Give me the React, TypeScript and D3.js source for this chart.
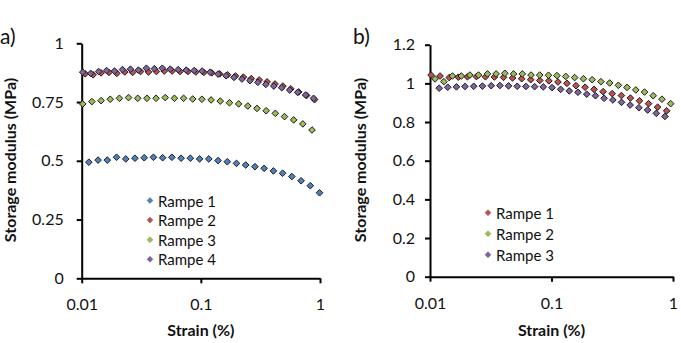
import { useEffect, useRef } from 'react';
import * as d3 from 'd3';

// ---- panel a) data ----
const strainA1 = [0.01148, 0.01372, 0.0164, 0.01961, 0.02343, 0.028, 0.03347, 0.04, 0.04781, 0.05715, 0.0683, 0.0816, 0.0976, 0.1166, 0.1394, 0.1666, 0.1991, 0.2379, 0.2844, 0.3399, 0.4062, 0.4855, 0.5803, 0.6935, 0.8289, 0.9908];
const modA1 = [0.494, 0.503, 0.503, 0.515, 0.508, 0.511, 0.513, 0.515, 0.513, 0.515, 0.511, 0.511, 0.508, 0.508, 0.501, 0.496, 0.489, 0.482, 0.475, 0.468, 0.457, 0.447, 0.433, 0.415, 0.394, 0.364];

const strainA2 = [0.0107, 0.01247, 0.01453, 0.01692, 0.01972, 0.02297, 0.02676, 0.03119, 0.03634, 0.04233, 0.04932, 0.05746, 0.06694, 0.078, 0.09088, 0.1059, 0.1234, 0.1438, 0.1675, 0.1952, 0.2274, 0.2649, 0.3087, 0.3596, 0.419, 0.4882, 0.5689, 0.6627, 0.7721, 0.8998];
const modA2 = [0.87, 0.866, 0.874, 0.876, 0.872, 0.878, 0.876, 0.88, 0.878, 0.88, 0.882, 0.882, 0.88, 0.88, 0.878, 0.876, 0.874, 0.87, 0.866, 0.861, 0.856, 0.85, 0.844, 0.836, 0.827, 0.818, 0.806, 0.793, 0.778, 0.76];

const strainA3 = [0.0102, 0.01217, 0.01454, 0.01735, 0.02072, 0.02473, 0.02953, 0.03526, 0.04209, 0.05025, 0.06, 0.0716, 0.0855, 0.1021, 0.1219, 0.1455, 0.1738, 0.2075, 0.2477, 0.2958, 0.3532, 0.4217, 0.5035, 0.6011, 0.7177, 0.857];
const modA3 = [0.742, 0.752, 0.756, 0.762, 0.766, 0.769, 0.766, 0.766, 0.766, 0.769, 0.766, 0.766, 0.763, 0.762, 0.759, 0.754, 0.747, 0.742, 0.733, 0.723, 0.713, 0.702, 0.688, 0.674, 0.657, 0.631];

const strainA4 = [0.0102, 0.01189, 0.01387, 0.01618, 0.01886, 0.022, 0.02566, 0.02992, 0.0349, 0.04071, 0.04748, 0.05537, 0.06458, 0.07533, 0.08786, 0.1025, 0.1195, 0.1394, 0.1626, 0.1897, 0.2212, 0.258, 0.3009, 0.351, 0.4094, 0.4775, 0.5569, 0.6495, 0.7575, 0.8835];
const modA4 = [0.877, 0.872, 0.88, 0.884, 0.882, 0.888, 0.89, 0.886, 0.894, 0.892, 0.894, 0.89, 0.888, 0.886, 0.884, 0.882, 0.877, 0.869, 0.862, 0.855, 0.848, 0.841, 0.834, 0.825, 0.818, 0.811, 0.801, 0.791, 0.78, 0.766];

// ---- panel b) data ----
const strainB1 = [0.0102, 0.0121, 0.0144, 0.0171, 0.0203, 0.0241, 0.0286, 0.0339, 0.0403, 0.0478, 0.0568, 0.0674, 0.0801, 0.0951, 0.113, 0.134, 0.159, 0.189, 0.224, 0.266, 0.316, 0.376, 0.446, 0.53, 0.629, 0.747, 0.887];
const modB1 = [1.043, 1.038, 1.03, 1.032, 1.034, 1.035, 1.034, 1.033, 1.031, 1.028, 1.024, 1.019, 1.015, 1.013, 1.007, 1.0, 0.988, 0.98, 0.969, 0.957, 0.947, 0.937, 0.924, 0.91, 0.895, 0.877, 0.858];

const strainB2 = [0.011, 0.013, 0.0153, 0.0181, 0.0213, 0.0251, 0.0297, 0.035, 0.0413, 0.0487, 0.0575, 0.0678, 0.08, 0.0944, 0.111, 0.131, 0.155, 0.183, 0.216, 0.255, 0.301, 0.355, 0.418, 0.494, 0.583, 0.687, 0.811, 0.957];
const modB2 = [1.023, 1.009, 1.038, 1.038, 1.043, 1.043, 1.049, 1.049, 1.052, 1.049, 1.049, 1.043, 1.043, 1.042, 1.04, 1.036, 1.03, 1.024, 1.019, 1.009, 1.002, 0.99, 0.979, 0.966, 0.955, 0.936, 0.918, 0.895];

const strainB3 = [0.0119, 0.014, 0.0165, 0.0194, 0.0229, 0.027, 0.0319, 0.0376, 0.0443, 0.0522, 0.0616, 0.0726, 0.0856, 0.101, 0.119, 0.14, 0.165, 0.195, 0.23, 0.271, 0.32, 0.377, 0.444, 0.524, 0.618, 0.729, 0.859];
const modB3 = [0.975, 0.98, 0.982, 0.984, 0.985, 0.986, 0.988, 0.989, 0.987, 0.985, 0.984, 0.983, 0.982, 0.978, 0.969, 0.961, 0.954, 0.944, 0.936, 0.923, 0.914, 0.902, 0.888, 0.874, 0.862, 0.845, 0.829];

const namesA = ['Rampe 1', 'Rampe 2', 'Rampe 3', 'Rampe 4'];
const namesB = ['Rampe 1', 'Rampe 2', 'Rampe 3'];
const colorsA = ['#4F81BD', '#C0504D', '#9BBB59', '#8064A2'];
const colorsB = ['#C0504D', '#9BBB59', '#8064A2'];

const xTicks = [0.01, 0.1, 1];
const xTickLabels = ['0.01', '0.1', '1'];
const yTicksA = [0, 0.25, 0.5, 0.75, 1];
const yTickLabelsA = ['0', '0.25', '0.5', '0.75', '1'];
const yTicksB = [0, 0.2, 0.4, 0.6, 0.8, 1, 1.2];
const yTickLabelsB = ['0', '0.2', '0.4', '0.6', '0.8', '1', '1.2'];

const FONT = "Lato, 'Open Sans', sans-serif";

type Series = { name: string; color: string; x: number[]; y: number[] };

const drawPanel = (svg: any, p: any) => {
    const xScale = d3.scaleLog().domain([0.01, 1]).range([p.left, p.right]);
    const yScale = d3.scaleLinear().domain([0, p.yMax]).range([p.bottom, p.top]);

    // axes
    const xAxis = d3.axisBottom(xScale)
        .tickValues(xTicks)
        .tickFormat((d: any, i: number) => xTickLabels[i])
        .tickSize(5)
        .tickSizeOuter(0)
        .tickPadding(p.xPad);
    const yAxis = d3.axisLeft(yScale)
        .tickValues(p.yTicks)
        .tickFormat((d: any, i: number) => p.yLabels[i])
        .tickSize(5)
        .tickSizeOuter(0)
        .tickPadding(p.yPad);

    const gx = svg.append('g').attr('transform', `translate(0,${p.bottom})`).call(xAxis);
    const gy = svg.append('g').attr('transform', `translate(${p.left},0)`).call(yAxis);
    [gx, gy].forEach(g => {
        g.select('.domain').attr('stroke', '#000').attr('stroke-width', 2);
        g.selectAll('.tick line').attr('stroke', '#000').attr('stroke-width', 2);
        g.selectAll('.tick text')
            .attr('fill', '#111')
            .style('font-size', '16px')
            .style('font-family', FONT);
    });

    // points (series drawn in order, later ones on top)
    const diamond = d3.symbol().type(d3.symbolDiamond2).size(28);
    p.series.forEach((s: Series) => {
        svg.append('g')
            .selectAll('path')
            .data(s.x.map((x, i) => [x, s.y[i]]))
            .join('path')
            .attr('d', diamond)
            .attr('transform', (d: number[]) => `translate(${xScale(d[0])},${yScale(d[1])})`)
            .attr('fill', s.color)
            .attr('stroke', '#1c1c1c')
            .attr('stroke-width', 1);
    });

    // legend
    const legendMark = d3.symbol().type(d3.symbolDiamond2).size(22);
    p.series.forEach((s: Series, i: number) => {
        const ly = p.legendY + i * p.legendStep;
        svg.append('path')
            .attr('d', legendMark)
            .attr('transform', `translate(${p.legendX},${ly})`)
            .attr('fill', s.color)
            .attr('stroke', d3.color(s.color)!.darker(0.6).toString())
            .attr('stroke-width', 0.5);
        svg.append('text')
            .attr('x', p.legendX + 8)
            .attr('y', ly)
            .attr('dominant-baseline', 'central')
            .attr('fill', '#111')
            .style('font-size', '15px')
            .style('font-family', FONT)
            .text(s.name);
    });

    // axis titles
    svg.append('text')
        .attr('x', (p.left + p.right) / 2)
        .attr('y', 336)
        .attr('text-anchor', 'middle')
        .attr('fill', '#111')
        .style('font-size', '16px')
        .style('font-weight', '700')
        .style('font-family', FONT)
        .text('Strain (%)');

    svg.append('text')
        .attr('transform', `translate(${p.titleX},160) rotate(-90)`)
        .attr('text-anchor', 'middle')
        .attr('fill', '#111')
        .style('font-size', '16px')
        .style('font-weight', '700')
        .style('font-family', FONT)
        .text('Storage modulus (MPa)');

    // panel letter
    svg.append('text')
        .attr('x', p.letterX)
        .attr('y', 44)
        .attr('fill', '#111')
        .style('font-size', '21px')
        .style('font-family', FONT)
        .text(p.letter);
};

const App = () => {
    const svgRef = useRef<SVGSVGElement | null>(null);

    useEffect(() => {
        const svg = d3.select(svgRef.current);
        svg.selectAll('*').remove();

        const seriesA: Series[] = [
            { name: namesA[0], color: colorsA[0], x: strainA1, y: modA1 },
            { name: namesA[1], color: colorsA[1], x: strainA2, y: modA2 },
            { name: namesA[2], color: colorsA[2], x: strainA3, y: modA3 },
            { name: namesA[3], color: colorsA[3], x: strainA4, y: modA4 },
        ];
        const seriesB: Series[] = [
            { name: namesB[0], color: colorsB[0], x: strainB1, y: modB1 },
            { name: namesB[1], color: colorsB[1], x: strainB2, y: modB2 },
            { name: namesB[2], color: colorsB[2], x: strainB3, y: modB3 },
        ];

        drawPanel(svg, {
            left: 81.7, right: 320, top: 43.3, bottom: 278.3, yMax: 1,
            yTicks: yTicksA, yLabels: yTickLabelsA, xPad: 15, yPad: 13,
            series: seriesA, legendX: 150, legendY: 200.5, legendStep: 19.6,
            titleX: 16, letter: 'a)', letterX: 0,
        });
        drawPanel(svg, {
            left: 430, right: 673, top: 44.7, bottom: 276.7, yMax: 1.2,
            yTicks: yTicksB, yLabels: yTickLabelsB, xPad: 16, yPad: 10,
            series: seriesB, legendX: 488, legendY: 212.7, legendStep: 21,
            titleX: 366, letter: 'b)', letterX: 353,
        });
    }, []);

    return (
        <svg
            ref={svgRef}
            width={681}
            height={343}
            style={{ position: 'absolute', left: 0, top: 0, background: '#fff' }}
        />
    );
};

export default App;
